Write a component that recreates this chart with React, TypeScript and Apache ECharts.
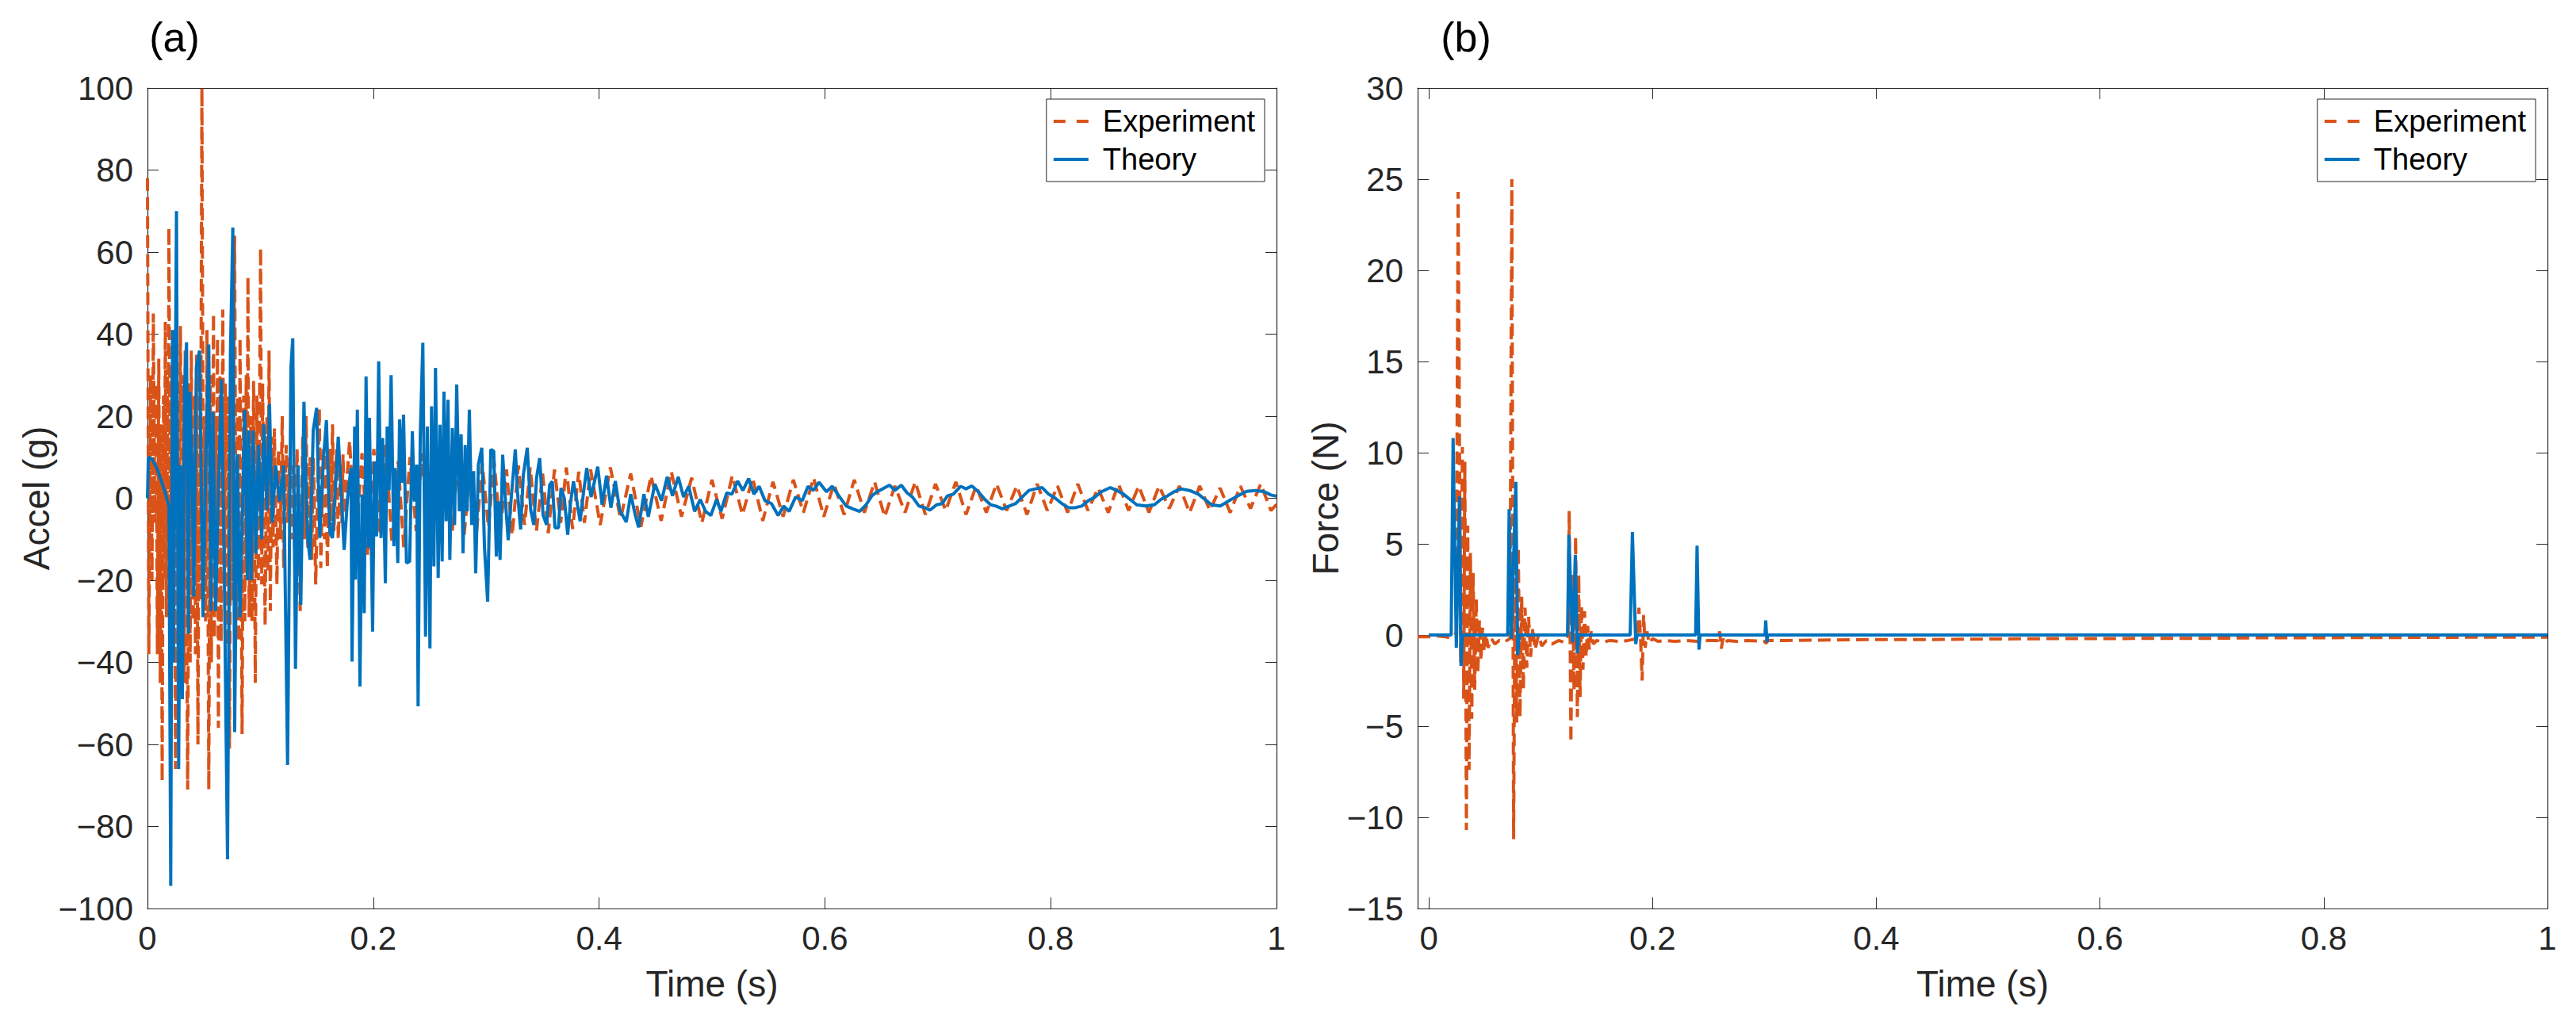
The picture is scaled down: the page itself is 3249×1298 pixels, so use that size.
import React, { useEffect, useRef } from 'react';
import * as echarts from 'echarts';

const FONT = '"Liberation Sans", Arial, Helvetica, sans-serif';
const ORANGE = '#D95319';
const BLUE = '#0072BD';
const INK = '#262626';

// axis limits [min, max, step]
const timeRangeA = [0, 1, 0.2];
const timeRangeB = [-0.01, 1];
const accelRange = [-100, 100, 20];
const forceRange = [-15, 30, 5];

// (a) acceleration, [time s, accel g]
const accelExperiment: [number, number][] = [
  [0, 78], [0.0012, -38], [0.0028, 30], [0.004, -20], [0.0052, 45], [0.0065, -6],
  [0.0076, 28], [0.0088, -38], [0.01, 34], [0.0113, -45], [0.0122, 18], [0.013, -69],
  [0.0142, 25], [0.015, -20], [0.0158, 43], [0.0168, -29], [0.0178, 30], [0.0183, -10],
  [0.019, 66], [0.0205, -21], [0.0216, 30], [0.0226, -40], [0.0236, 37], [0.0248, -66],
  [0.0262, 25], [0.0275, -35], [0.0292, 42], [0.0304, -31], [0.0316, 30], [0.0324, -45],
  [0.0334, 36], [0.0356, -71], [0.037, 28], [0.0378, -40], [0.0388, 36], [0.0405, -30],
  [0.0418, 25], [0.0425, -38], [0.0435, 35], [0.0447, -60], [0.046, 30], [0.0468, -25],
  [0.0482, 100], [0.0494, -2], [0.0505, 20], [0.0515, -30], [0.0527, 41], [0.0543, -71],
  [0.0556, 30], [0.0566, -40], [0.0585, 45], [0.0593, -34], [0.0606, 20], [0.0612, -20],
  [0.062, 39], [0.0628, -56], [0.0642, 30], [0.0652, -35], [0.0667, 46], [0.068, -20],
  [0.069, 28], [0.0702, -36], [0.0714, 25], [0.0726, -61], [0.0742, 30], [0.0752, -25],
  [0.0772, 64], [0.0785, -29], [0.0798, 25], [0.0808, -35], [0.082, 39], [0.0838, -57.5],
  [0.0852, 25], [0.0862, -30], [0.0875, 30], [0.088, -15], [0.089, 54], [0.09, -29],
  [0.0915, 20], [0.0925, -30], [0.094, 28.6], [0.0955, -45], [0.097, 25], [0.0982, -20],
  [0.1002, 61], [0.1012, -21], [0.102, 28], [0.1042, -31], [0.1058, 20], [0.1066, -18],
  [0.1077, 36], [0.1088, -27.5], [0.1102, 15], [0.1112, -12], [0.1124, 17], [0.1147, -21],
  [0.116, 12], [0.1176, -10], [0.1194, 20], [0.1206, -17], [0.1229, 13], [0.1243, -6],
  [0.126, 10], [0.1276, -10], [0.129, 8], [0.1305, -15], [0.1325, 12], [0.1353, -27.5],
  [0.1375, 15], [0.139, -10], [0.1405, 20], [0.142, -12], [0.144, 10], [0.1455, -15],
  [0.147, 10], [0.149, -21], [0.1522, 22], [0.1535, -17], [0.1555, 12], [0.1568, -10],
  [0.158, 11], [0.1593, -17], [0.1615, 12], [0.1625, -8], [0.1639, 18], [0.1652, -8],
  [0.1675, 12], [0.169, -10], [0.1712, 9], [0.1722, -6], [0.1732, 10.7], [0.1745, -4],
  [0.179, 14], [0.1845, -12], [0.19, 11], [0.195, -14], [0.2005, 12], [0.206, -9],
  [0.211, 13], [0.2165, -11], [0.222, 9], [0.227, -12], [0.2325, 10], [0.238, -8],
  [0.243, 11], [0.2485, -10], [0.254, 8], [0.259, -11], [0.2645, 9], [0.27, -8],
  [0.275, 10], [0.2805, -9], [0.286, 8], [0.291, -10], [0.2965, 8.5], [0.302, -7],
  [0.307, 9], [0.3125, -8], [0.318, 7], [0.323, -9], [0.3285, 8], [0.334, -6.5],
  [0.339, 7.5], [0.3445, -8], [0.35, 6], [0.355, -8.5], [0.3605, 7], [0.366, -6],
  [0.371, 7.5], [0.3765, -7.5], [0.382, 6.5], [0.387, -6], [0.3925, 7],
  [0.401, -6.5], [0.41, 7.5], [0.419, -5], [0.428, 6], [0.437, -7], [0.446, 5.5],
  [0.455, -5.5], [0.464, 6.5], [0.473, -4.5], [0.482, 5], [0.491, -6], [0.5, 4.5],
  [0.509, -5], [0.518, 5.5], [0.527, -4], [0.536, 5], [0.545, -5.5], [0.554, 4],
  [0.563, -4.5], [0.572, 4.5], [0.581, -3.5], [0.59, 5], [0.599, -4.5], [0.608, 3.5],
  [0.617, -4], [0.626, 4.5], [0.635, -3.5], [0.644, 4], [0.653, -4.5], [0.662, 3],
  [0.671, -3.5], [0.68, 4], [0.689, -4], [0.698, 3.5], [0.707, -3], [0.716, 4],
  [0.725, -4], [0.734, 3], [0.743, -3.5], [0.752, 3.5], [0.761, -3], [0.77, 3],
  [0.779, -4], [0.788, 3.5], [0.797, -3], [0.806, 3], [0.815, -3.5], [0.824, 3.5],
  [0.833, -3], [0.842, 2.5], [0.851, -3.5], [0.86, 3.5], [0.869, -3], [0.878, 3],
  [0.887, -3.5], [0.896, 3], [0.905, -2.5], [0.914, 3], [0.923, -3.5], [0.932, 3],
  [0.941, -3], [0.95, 2.5], [0.959, -3.5], [0.968, 3], [0.977, -2.5], [0.986, 3.5],
  [0.995, -3], [1, -1.5],
];

const accelTheory: [number, number][] = [
  [0, 0], [0.0008, 10], [0.004, 9.5], [0.008, 7.5], [0.012, 4.5], [0.016, 1], [0.019, -2],
  [0.0206, -94.5], [0.0222, 41], [0.023, -40], [0.0257, 70], [0.0276, -66], [0.0293, 8],
  [0.0309, -49], [0.0328, 27], [0.0346, 38], [0.0363, -33], [0.0375, 26], [0.0398, 5.6],
  [0.041, -24], [0.0433, 32], [0.0461, 36], [0.0492, -29], [0.0515, 7], [0.0543, 37.5],
  [0.0562, -27.5], [0.058, 21], [0.0604, -27.5], [0.0627, 0.5], [0.0655, 29], [0.0679, -15],
  [0.0709, -88], [0.0735, 35.6], [0.0756, 66], [0.0772, -57], [0.0796, 10.7], [0.0819, -29],
  [0.0861, 21.6], [0.0885, -20], [0.0897, 16.5], [0.0918, -20], [0.0936, 16.5], [0.096, -13.5],
  [0.0983, 13], [0.1011, -10], [0.103, 18], [0.1058, -3], [0.1081, 23], [0.1105, -6],
  [0.1135, 8], [0.117, -0.8], [0.1206, 8], [0.1241, -65], [0.1271, 32], [0.1287, 39],
  [0.1311, -41.6], [0.1334, 8], [0.1358, -26], [0.1386, 23.5], [0.1416, -9], [0.144, -15],
  [0.1468, 16.5], [0.1498, 22], [0.1526, -9.7], [0.1557, 8.8], [0.1585, 19], [0.1615, -8.4],
  [0.1639, -9.7], [0.169, 15], [0.1742, -12.6], [0.1772, 0], [0.1802, 7.4], [0.1812, -39.8],
  [0.1835, 17.5], [0.1842, -19.8], [0.1859, 21.6], [0.1882, -45.9], [0.1901, 0.9], [0.192, -28],
  [0.1936, 29.7], [0.1955, -12], [0.1966, 19.6], [0.1994, -32.5], [0.201, 9], [0.2029, -9.3],
  [0.2048, 33.4], [0.2069, -9.7], [0.2083, 14.7], [0.2107, -20.7], [0.2123, 17.5], [0.214, 2],
  [0.2158, 30], [0.2182, -11.7], [0.2194, 7.4], [0.2217, -15.8], [0.2233, 19.2], [0.2252, 3.8],
  [0.2268, 20.4], [0.2294, -15.8], [0.2322, -15.4], [0.2346, 16.3], [0.2364, -0.8], [0.2385, 8.2],
  [0.2397, -50.7], [0.2416, 15.2], [0.2439, 37.9], [0.2463, -33.7], [0.2479, 17.5], [0.2502, -36.6],
  [0.2516, 22.4], [0.2537, -16.6], [0.2551, 31.8], [0.2575, -19.4], [0.2591, 17.9], [0.261, -15.4],
  [0.2626, 26], [0.2645, -5.6], [0.2662, 24], [0.2678, -15], [0.2701, 17.1], [0.272, -6.5],
  [0.2739, 27.7], [0.2762, -3.2], [0.2778, 15.6], [0.2795, -13.4], [0.2814, 13], [0.2832, -3.2],
  [0.2851, 21.6], [0.2872, -6.5], [0.2889, 6.6], [0.2907, -18.3], [0.2931, 8.2], [0.2961, 12.3],
  [0.2985, -12], [0.3013, -25.2], [0.3041, 11.9], [0.3067, 11.5], [0.309, -14.2], [0.3107, -0.8],
  [0.3123, -15], [0.3146, 10.6], [0.317, -0.3], [0.3195, -10.2], [0.3223, 0.5], [0.3258, 11.9],
  [0.3277, 1.6], [0.3305, -7.6], [0.3329, 5.7], [0.3364, 12.3], [0.3394, -2.8], [0.3422, -6.5],
  [0.3446, 4.9], [0.3474, 9.8], [0.3504, -4.1], [0.3535, -6.5], [0.3562, 3.3], [0.3586, 4.1],
  [0.3609, -7.2], [0.364, -7.2], [0.3663, 2.5], [0.3692, 0], [0.3722, -8.9], [0.3745, -1.6],
  [0.3773, 4.1], [0.3804, -0.8], [0.3832, -5.6], [0.3863, 1.6], [0.3891, 7.4], [0.3929, 0.3],
  [0.3988, 7.7], [0.4027, -1.6], [0.4066, 5.5], [0.4105, -2.3], [0.4144, 4.2], [0.4183, -2.9],
  [0.4241, -5.8], [0.428, 1], [0.4319, -3.9], [0.435, -7.1], [0.4397, 1], [0.4436, -4.5],
  [0.4494, 3.5], [0.4553, -0.6], [0.4604, 5.2], [0.465, 0.6], [0.4701, 5.2], [0.4748, 0.3],
  [0.4794, 2.9], [0.4846, -3.2], [0.4896, -0.3], [0.4943, -3.2], [0.499, -4.2], [0.504, -0.3],
  [0.5079, -3.2], [0.513, 1.3], [0.5177, 1], [0.5227, 4.2], [0.5274, 1.9], [0.5325, 4.8],
  [0.5371, 1], [0.5418, 2.9], [0.5469, -0.6], [0.5527, -1.3], [0.5586, -4.2], [0.5636, -1.9],
  [0.5683, -3.2], [0.5741, 0.3], [0.58, -0.6], [0.585, 2.9], [0.5897, 1.9], [0.5948, 3.9],
  [0.6014, 1.6], [0.6065, 2.9], [0.6131, 0.3], [0.6189, -1.9], [0.6248, -2.6], [0.6307, -3.2],
  [0.6365, -1.6], [0.6416, 0.6], [0.6463, 1.6], [0.6513, 2.3], [0.6572, 3.2], [0.6619, 1.9],
  [0.6677, 3.2], [0.6728, 1.3], [0.6775, 0.3], [0.6833, -1.9], [0.6884, -2.3], [0.693, -2.9],
  [0.6989, -1.6], [0.7039, -1.3], [0.7086, 0.6], [0.7137, 1], [0.7203, 2.9], [0.725, 2.3],
  [0.7301, 3], [0.7359, 1.6], [0.7417, -0.3], [0.7468, -1.6], [0.7515, -1.9], [0.7573, -2.6],
  [0.7632, -1.9], [0.769, -1.3], [0.7748, 0.3], [0.7807, 1.9], [0.7865, 2.3], [0.7924, 2.6],
  [0.7982, 1], [0.8041, 0], [0.8099, -1.3], [0.8158, -2.3], [0.8216, -2.3], [0.8275, -1.9],
  [0.8333, -0.6], [0.8392, 0.3], [0.845, 1.6], [0.8528, 2.6], [0.8587, 1.9], [0.8645, 1],
  [0.8703, -0.3], [0.8762, -1.6], [0.884, -1.9], [0.8918, -1.6], [0.8976, -0.3], [0.9035, 0.6],
  [0.9093, 1.6], [0.9152, 2.3], [0.923, 1.9], [0.9308, 1], [0.9366, -0.3], [0.9424, -1.6],
  [0.9502, -1.9], [0.958, -0.6], [0.9658, 0.6], [0.9736, 1.7], [0.9814, 1.9], [0.9892, 1.6],
  [0.995, 0.8], [1, 0.5],
];

// (b) force, [time s, force N]
const forceExperiment: [number, number][] = [
  [-0.01, -0.1], [0, -0.1], [0.008, -0.05], [0.015, -0.1], [0.019, -0.15], [0.0245, 0.1],
  [0.0262, 24.3], [0.0285, -1.5], [0.03, 10.3], [0.0312, -3.5], [0.0322, 9.5], [0.0336, -10.7],
  [0.0348, 6], [0.036, -7.4], [0.0372, 4.5], [0.0384, -4.6], [0.0396, 3.4], [0.041, -3],
  [0.0424, 2], [0.0438, -2.1], [0.0452, 0.8], [0.0466, -1.4], [0.048, 0.4], [0.0495, -0.9],
  [0.051, 0.1], [0.053, -0.7], [0.056, -0.2], [0.059, -0.5], [0.063, -0.3], [0.067, -0.4],
  [0.0725, -0.2], [0.0742, 25], [0.0758, -11.2], [0.0772, 5.3], [0.0786, -4.8], [0.08, 4.8],
  [0.0815, -4.5], [0.083, 2.1], [0.0845, -3], [0.086, 1.5], [0.0876, -1.8], [0.0892, 1],
  [0.091, -1.2], [0.093, 0.4], [0.095, -0.8], [0.098, 0], [0.101, -0.6], [0.105, -0.3],
  [0.11, -0.5], [0.116, -0.3], [0.121, -0.4], [0.1245, 0], [0.1255, 6.8], [0.127, -5.9],
  [0.1285, 3.3], [0.1298, -3], [0.1312, 5.4], [0.1328, -4.5], [0.134, 3.3], [0.1352, -3.4],
  [0.1365, 1.6], [0.1378, -1.9], [0.1392, 1.3], [0.1406, -1.2], [0.142, 0.5], [0.1435, -0.8],
  [0.145, 0.2], [0.147, -0.5], [0.15, -0.3], [0.155, -0.4], [0.162, -0.3], [0.17, -0.35],
  [0.178, -0.3], [0.1865, -0.2], [0.1878, 1.5], [0.1895, -0.5], [0.1907, -2.5], [0.192, 1.1],
  [0.1935, -0.7], [0.195, 0.2], [0.197, -0.45], [0.2, -0.2], [0.205, -0.35], [0.212, -0.3],
  [0.22, -0.35], [0.23, -0.3], [0.24, -0.35], [0.25, -0.3], [0.2585, -0.3], [0.26, 0.2],
  [0.2614, -0.75], [0.263, -0.2], [0.2645, -0.5], [0.267, -0.3], [0.275, -0.35], [0.285, -0.3],
  [0.3, -0.35], [0.3015, -0.45], [0.303, -0.3], [0.32, -0.3], [0.35, -0.28], [0.4, -0.25],
  [0.45, -0.25], [0.5, -0.22], [0.55, -0.2], [0.6, -0.2], [0.65, -0.18], [0.7, -0.18],
  [0.75, -0.15], [0.8, -0.15], [0.85, -0.14], [0.9, -0.13], [0.95, -0.12], [1, -0.12],
];

const forceTheory: [number, number][] = [
  [0, 0], [0.02, 0], [0.0217, 10.8], [0.0246, -0.7], [0.0274, 7.6], [0.0288, -1.7], [0.03, 0],
  [0.0705, 0], [0.0718, 6.9], [0.0737, -0.2], [0.0778, 8.4], [0.0794, -1.1], [0.0808, 0],
  [0.124, 0], [0.1252, 5.5], [0.1285, -0.4], [0.131, 4.4], [0.1328, -1], [0.134, 0],
  [0.18, 0], [0.182, 5.65], [0.185, -0.5], [0.1862, 0],
  [0.2385, 0], [0.2398, 4.9], [0.2415, -0.8], [0.2425, 0],
  [0.3005, 0], [0.3012, 0.8], [0.3022, -0.4], [0.303, 0], [1, 0],
];

const minus = (v: number) => String(v).replace('-', '\u2212');

const tickText = { fontFamily: FONT, fontSize: 42, color: INK };

function xAxes(gridIndex: number, range: number[], name: string) {
  const base: any = {
    type: 'value',
    gridIndex,
    min: range[0],
    max: range[1],
    axisLine: { onZero: false, lineStyle: { color: INK, width: 1.2 } },
    axisTick: { inside: true, length: 14, lineStyle: { color: INK, width: 1 } },
    splitLine: { show: false },
  };
  if (range.length > 2) base.interval = range[2];
  else base.splitNumber = 5;
  return [
    {
      ...base,
      position: 'bottom',
      name,
      nameLocation: 'middle',
      nameGap: 72,
      nameTextStyle: { fontFamily: FONT, fontSize: 46, color: INK },
      axisLabel: {
        ...tickText,
        margin: 16,
        formatter: (v: number) => (v < 0 ? '' : String(v)),
      },
    },
    { ...base, position: 'top', axisLabel: { show: false } },
  ];
}

function yAxes(gridIndex: number, range: number[], name: string) {
  const base: any = {
    type: 'value',
    gridIndex,
    min: range[0],
    max: range[1],
    interval: range[2],
    axisLine: { onZero: false, lineStyle: { color: INK, width: 1.2 } },
    axisTick: { inside: true, length: 14, lineStyle: { color: INK, width: 1 } },
    splitLine: { show: false },
  };
  return [
    {
      ...base,
      position: 'left',
      name,
      nameLocation: 'middle',
      nameGap: 92,
      nameTextStyle: { fontFamily: FONT, fontSize: 46, color: INK },
      axisLabel: { ...tickText, margin: 18, formatter: minus },
    },
    { ...base, position: 'right', axisLabel: { show: false } },
  ];
}

function legend(right: number) {
  return {
    orient: 'vertical',
    right,
    top: 125,
    itemWidth: 44,
    itemHeight: 14,
    itemGap: 0,
    padding: [4, 12, 4, 7],
    backgroundColor: '#ffffff',
    borderColor: INK,
    borderWidth: 1,
    itemStyle: { opacity: 0 },
    textStyle: { fontFamily: FONT, fontSize: 38, color: '#000', lineHeight: 48, padding: [0, 0, 0, 13] },
    data: [
      { name: 'Experiment', lineStyle: { type: [15, 14], width: 4 } },
      { name: 'Theory', lineStyle: { width: 4 } },
    ],
  };
}

const lineSeries = (name: string, data: [number, number][], idx: number, dashed: boolean) => ({
  name,
  type: 'line',
  data,
  xAxisIndex: idx,
  yAxisIndex: idx,
  symbol: 'none',
  showSymbol: false,
  color: dashed ? ORANGE : BLUE,
  lineStyle: { color: dashed ? ORANGE : BLUE, width: 4, type: dashed ? [16, 8] : 'solid' },
  z: dashed ? 2 : 3,
});

const App: React.FC = () => {
  const chartRef = useRef<HTMLDivElement>(null);

  useEffect(() => {
    if (!chartRef.current) return;
    const chart = echarts.init(chartRef.current, undefined, { renderer: 'svg' });

    chart.setOption({
      animation: false,
      backgroundColor: '#ffffff',
      textStyle: { fontFamily: FONT },
      grid: [
        { left: 186, top: 111, width: 1424, height: 1035 },
        { left: 1788, top: 111, width: 1425, height: 1035 },
      ],
      xAxis: [...xAxes(0, timeRangeA, 'Time (s)'), ...xAxes(1, timeRangeB, 'Time (s)')],
      yAxis: [...yAxes(0, accelRange, 'Accel (g)'), ...yAxes(1, forceRange, 'Force (N)')],
      legend: [legend(3249 - 1595), legend(3249 - 3198)],
      graphic: [
        {
          type: 'text',
          x: 220,
          y: 47,
          style: { text: '(a)', font: `52px ${FONT}`, fill: '#000', textAlign: 'center', textVerticalAlign: 'middle' },
        },
        {
          type: 'text',
          x: 1849,
          y: 47,
          style: { text: '(b)', font: `52px ${FONT}`, fill: '#000', textAlign: 'center', textVerticalAlign: 'middle' },
        },
      ],
      series: [
        lineSeries('Experiment', accelExperiment, 0, true),
        lineSeries('Theory', accelTheory, 0, false),
        lineSeries('Experiment', forceExperiment, 2, true),
        lineSeries('Theory', forceTheory, 2, false),
      ],
    });

    return () => {
      chart.dispose();
    };
  }, []);

  return (
    <div
      ref={chartRef}
      style={{ position: 'absolute', left: 0, top: 0, width: '3249px', height: '1298px' }}
    ></div>
  );
};

export default App;
